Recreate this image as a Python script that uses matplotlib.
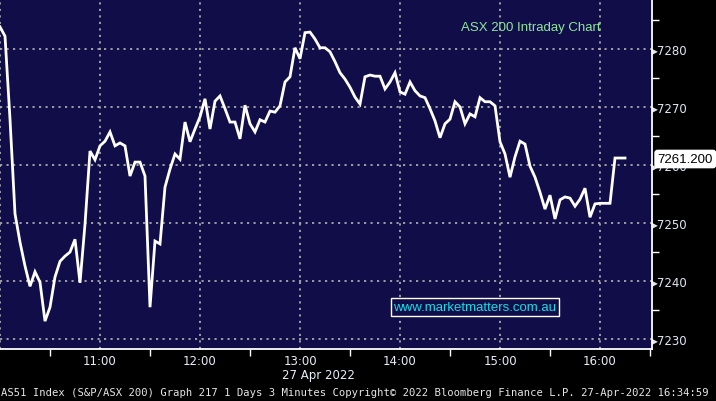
import numpy as np
import pandas as pd
import matplotlib
matplotlib.use("Agg")
import matplotlib.pyplot as plt
import matplotlib.dates as mdates

# ASX 200 intraday, 3 minute bars from 10:00
values = [7283.8, 7282.2, 7267.9, 7251.6, 7246.7, 7242.6, 7239.1, 7241.6, 7239.8, 7233.1,
          7235.5, 7240.7, 7243.4, 7244.3, 7245.0, 7247.2, 7239.7, 7249.8, 7262.4, 7260.9,
          7263.3, 7264.1, 7265.7, 7263.3, 7263.8, 7263.3, 7258.1, 7260.5, 7260.5, 7258.1,
          7235.5, 7246.9, 7246.4, 7256.2, 7259.3, 7261.9, 7261.0, 7267.4, 7264.0, 7266.2,
          7268.3, 7271.4, 7266.2, 7271.0, 7271.9, 7269.7, 7267.4, 7267.4, 7264.5, 7270.3,
          7267.1, 7265.7, 7267.8, 7267.4, 7269.3, 7269.1, 7270.2, 7274.3, 7275.2, 7280.2,
          7278.3, 7282.8, 7282.9, 7281.7, 7280.2, 7280.2, 7279.5, 7277.8, 7275.9, 7274.8,
          7273.4, 7271.7, 7270.5, 7275.2, 7275.5, 7275.3, 7275.3, 7273.1, 7274.3, 7275.9,
          7272.6, 7272.2, 7274.3, 7272.8, 7271.9, 7271.6, 7269.7, 7267.6, 7264.7, 7267.1,
          7267.9, 7270.9, 7270.0, 7267.1, 7268.8, 7268.3, 7271.6, 7270.9, 7270.9, 7270.2,
          7264.0, 7261.9, 7257.9, 7261.4, 7264.1, 7263.6, 7259.8, 7257.9, 7255.3, 7252.4,
          7254.8, 7250.7, 7254.0, 7254.5, 7254.3, 7252.9, 7254.1, 7256.0, 7251.0, 7253.3,
          7253.4, 7253.4, 7253.4, 7261.2, 7261.2, 7261.2]
times = pd.date_range("2022-04-27 10:00", periods=len(values), freq="3min")
last_value = "7261.200"
yticks = [7230, 7240, 7250, 7260, 7270, 7280]
xtick_labels = ["", "11:00", "12:00", "13:00", "14:00", "15:00", "16:00"]
xticks = pd.date_range("2022-04-27 10:00", "2022-04-27 16:00", freq="60min")

fig = plt.figure(figsize=(7.16, 4.02), dpi=100, facecolor="black")
ax = fig.add_axes([0, 52 / 402, 652 / 716, 350 / 402])
ax.set_facecolor("#100d48")

ax.plot(times, values, color="white", lw=2.0, solid_joinstyle="miter", zorder=3)

ax.set_xlim(pd.Timestamp("2022-04-27 10:00"), pd.Timestamp("2022-04-27 16:31:12"))
ax.set_ylim(7228.3, 7288.6)

ax.set_xticks(xticks)
ax.set_xticklabels(xtick_labels)
ax.xaxis.set_minor_locator(mdates.MinuteLocator(byminute=[30]))
ax.yaxis.tick_right()
ax.set_yticks(yticks)
ax.set_yticklabels(["\u25b8" + str(v) for v in yticks])
ax.set_yticks([7235, 7245, 7255, 7265, 7275, 7285], minor=True)

ax.tick_params(axis="x", which="major", length=0, pad=3.5, labelsize=8.5, labelcolor="#e8eef8")
ax.tick_params(axis="x", which="minor", length=5, color="white", width=1)
ax.tick_params(axis="y", which="major", length=0, pad=0, labelsize=8.5, labelcolor="#dde8f5")
ax.tick_params(axis="y", which="minor", length=5, color="white", width=1)

ax.grid(True, which="major", color="#a8a8a8", linestyle=(0, (1.2, 2.4)), lw=1.3)

for s in ["left", "top"]:
    ax.spines[s].set_visible(False)
for s in ["right", "bottom"]:
    ax.spines[s].set_color("white")
    ax.spines[s].set_linewidth(1.3)

fig.text(531 / 716, 1 - 28 / 402, "ASX 200 Intraday Chart", color="#8ee89a",
         fontsize=9.5, family="Liberation Sans", ha="center", va="center")
fig.text(475 / 716, 1 - 308 / 402, "www.marketmatters.com.au", color="#10e0e8",
         fontsize=9.5, family="Liberation Sans", ha="center", va="center",
         bbox=dict(boxstyle="square,pad=0.2", fc="#100d48", ec="white", lw=1))

fig.text(713 / 716, 1 - 160 / 402, last_value, ha="right", va="center",
         fontsize=9.5, color="black", family="Liberation Sans",
         bbox=dict(boxstyle="round,pad=0.2", fc="white", ec="white"))

fig.text(318 / 716, 1 - 376 / 402, "27 Apr 2022", color="#e8eef8", fontsize=8.5,
         ha="center", va="center")
fig.text(1 / 716, 1 - 393 / 402,
         "AS51 Index (S&P/ASX 200) Graph 217 1 Days 3 Minutes Copyright\u00a9 2022 Bloomberg Finance L.P. 27-Apr-2022 16:34:59",
         color="#e6e6e6", fontsize=7.55, family="DejaVu Sans Mono", ha="left", va="center")

fig.savefig("out.png", dpi=100, facecolor="black")
